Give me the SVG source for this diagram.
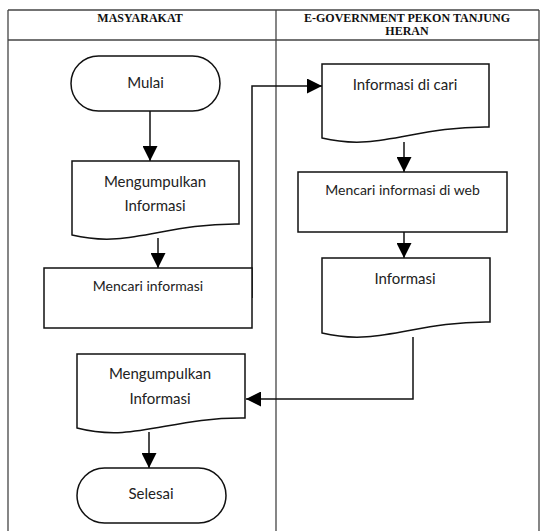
<svg xmlns="http://www.w3.org/2000/svg" width="541" height="531" viewBox="0 0 541 531">
<style>
.frame{fill:none;stroke:#444;stroke-width:1.3}
.shape{fill:#fff;stroke:#111;stroke-width:1.5}
.conn{fill:none;stroke:#111;stroke-width:1.5}
.hdr{font-family:"Liberation Serif",serif;font-weight:bold;font-size:12px;fill:#111;text-anchor:middle}
.lbl{font-family:Lato,"Liberation Sans",sans-serif;font-size:15px;fill:#222;text-anchor:middle}
.sm{font-family:Lato,"Liberation Sans",sans-serif;font-size:14px;fill:#222;text-anchor:middle}
</style>
<defs>
<marker id="ah" viewBox="0 0 10 10" refX="10" refY="5" markerWidth="15" markerHeight="15" markerUnits="userSpaceOnUse" orient="auto">
<path d="M0,0 L10,5 L0,10 Z" fill="#000"/>
</marker>
</defs>
<rect width="541" height="531" fill="#fff"/>
<g id="frame">
<line class="frame" x1="8" y1="10" x2="539" y2="10"/>
<line class="frame" x1="8" y1="40" x2="539" y2="40"/>
<line class="frame" x1="8" y1="10" x2="8" y2="531"/>
<line class="frame" x1="276" y1="10" x2="276" y2="531"/>
<line class="frame" x1="539" y1="10" x2="539" y2="531"/>
<text class="hdr" x="140" y="22">MASYARAKAT</text>
<text class="hdr" x="407" y="22">E-GOVERNMENT PEKON TANJUNG</text>
<text class="hdr" x="407" y="35">HERAN</text>
</g>
<g id="connectors">
<line class="conn" x1="150" y1="111" x2="150" y2="161" marker-end="url(#ah)"/>
<line class="conn" x1="158" y1="238" x2="158" y2="268" marker-end="url(#ah)"/>
<polyline class="conn" points="252,298 252,86 322,86" marker-end="url(#ah)"/>
<line class="conn" x1="404" y1="142" x2="404" y2="172" marker-end="url(#ah)"/>
<line class="conn" x1="404" y1="232" x2="404" y2="258" marker-end="url(#ah)"/>
<polyline class="conn" points="413,337 413,399 246,399" marker-end="url(#ah)"/>
<line class="conn" x1="149" y1="432" x2="149" y2="468" marker-end="url(#ah)"/>
</g>
<g id="mulai">
<rect class="shape" x="71" y="56" width="149" height="55" rx="27.5"/>
<text class="lbl" x="145.5" y="88">Mulai</text>
</g>
<g id="mengumpulkan1">
<path class="shape" d="M72,161 H239 V224 C164,223 130,249 72,235 Z"/>
<text class="lbl" x="155" y="187">Mengumpulkan</text>
<text class="lbl" x="155" y="211">Informasi</text>
</g>
<g id="mencari">
<rect class="shape" x="44" y="268" width="208" height="60"/>
<text class="sm" x="148" y="291">Mencari informasi</text>
</g>
<g id="informasi-dicari">
<path class="shape" d="M322,64 H489 V127 C414,126 380,152 322,138 Z"/>
<text class="lbl" x="405" y="90">Informasi di cari</text>
</g>
<g id="mencari-web">
<rect class="shape" x="298" y="172" width="209" height="60"/>
<text class="sm" x="402.5" y="195">Mencari informasi di web</text>
</g>
<g id="informasi">
<path class="shape" d="M322,258 H490 V322 C415,321 380,347 322,333 Z"/>
<text class="lbl" x="405" y="284">Informasi</text>
</g>
<g id="mengumpulkan2">
<path class="shape" d="M77,354 H245 V418 C170,417 135,443 77,428 Z"/>
<text class="lbl" x="160" y="379">Mengumpulkan</text>
<text class="lbl" x="160" y="404">Informasi</text>
</g>
<g id="selesai">
<rect class="shape" x="77" y="468" width="149" height="55" rx="27.5"/>
<text class="lbl" x="151" y="499">Selesai</text>
</g>
</svg>
